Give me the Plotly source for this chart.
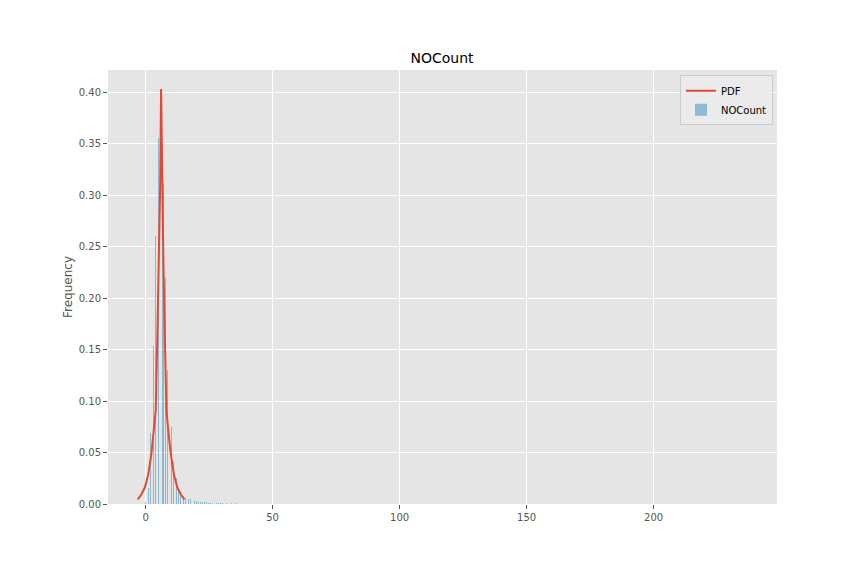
import plotly.graph_objects as go

# Histogram (density) bars: bin centres and heights
bin_centers = [0.05, 1.1, 2.0, 3.05, 4.0, 5.05, 6.6, 7.0, 8.0, 8.8, 10.1, 10.9, 12.0, 12.85, 13.9,
               14.8, 15.7, 16.9, 17.6, 19.2, 19.9, 20.8, 21.5, 22.4, 23.2, 23.9, 24.7, 25.5,
               26.3, 27.9, 28.7, 29.4, 30.2, 31.8, 33.7, 35.6]
density = [0.002, 0.016, 0.069, 0.153, 0.260, 0.355, 0.312, 0.312, 0.219, 0.130, 0.075, 0.041, 0.025,
           0.014, 0.011, 0.0078, 0.0058, 0.005, 0.005, 0.003, 0.003, 0.0023, 0.0023, 0.002,
           0.002, 0.0018, 0.0013, 0.0013, 0.0013, 0.0012, 0.0012, 0.0012, 0.0012, 0.001,
           0.001, 0.001]

# PDF curve points
pdf_x = [-3.1, -1.8, -0.3, 1.0, 2.3, 3.2, 4.0, 4.6, 5.2, 5.75, 6.1,
         6.45, 7.0, 7.6, 8.2, 9.0, 9.9, 11.2, 12.5, 14.0, 15.3]
pdf_y = [0.0046, 0.0087, 0.016, 0.028, 0.049, 0.069, 0.091, 0.16, 0.237, 0.31, 0.403,
         0.31, 0.237, 0.16, 0.091, 0.069, 0.049, 0.028, 0.016, 0.0087, 0.0046]

x_ticks = [0, 50, 100, 150, 200]
y_ticks = [0.00, 0.05, 0.10, 0.15, 0.20, 0.25, 0.30, 0.35, 0.40]

fig = go.Figure()
fig.add_trace(go.Scatter(x=pdf_x, y=pdf_y, mode="lines", name="PDF",
                         line=dict(color="#E24A33", width=2)))
fig.add_trace(go.Bar(x=bin_centers, y=density, name="NOCount", width=0.4,
                     marker=dict(color="rgba(52,138,189,0.5)", line=dict(width=0))))

fig.update_layout(
    width=864, height=576,
    margin=dict(l=100, r=95, t=62, b=80),
    paper_bgcolor="white", plot_bgcolor="#E5E5E5",
    font=dict(family="DejaVu Sans", color="#555555", size=10),
    title=dict(text="NOCount", x=434 / 864, xanchor="center",
               y=1 - 50 / 576, yanchor="middle",
               font=dict(size=14, color="black")),
    showlegend=True,
    legend=dict(x=0.994, xanchor="right", y=0.988, yanchor="top",
                bgcolor="rgba(236,236,236,0.8)", bordercolor="#CCCCCC", borderwidth=1,
                font=dict(size=10, color="black"), traceorder="normal",
                tracegroupgap=0, itemwidth=30),
    bargap=0,
)
fig.update_xaxes(range=[-14.8, 248.6], tickvals=x_ticks, ticktext=[str(v) for v in x_ticks],
                 showgrid=True, gridcolor="white", gridwidth=1, zeroline=False,
                 ticks="outside", ticklen=4, tickcolor="#555555", showline=False)
fig.update_yaxes(range=[0, 0.4214], tickvals=y_ticks, ticktext=[f"{v:.2f}" for v in y_ticks],
                 showgrid=True, gridcolor="white", gridwidth=1, zeroline=False,
                 ticks="outside", ticklen=4, tickcolor="#555555", showline=False,
                 title=dict(text="Frequency", font=dict(size=12, color="#555555"), standoff=3))

fig.write_html("out.html")
